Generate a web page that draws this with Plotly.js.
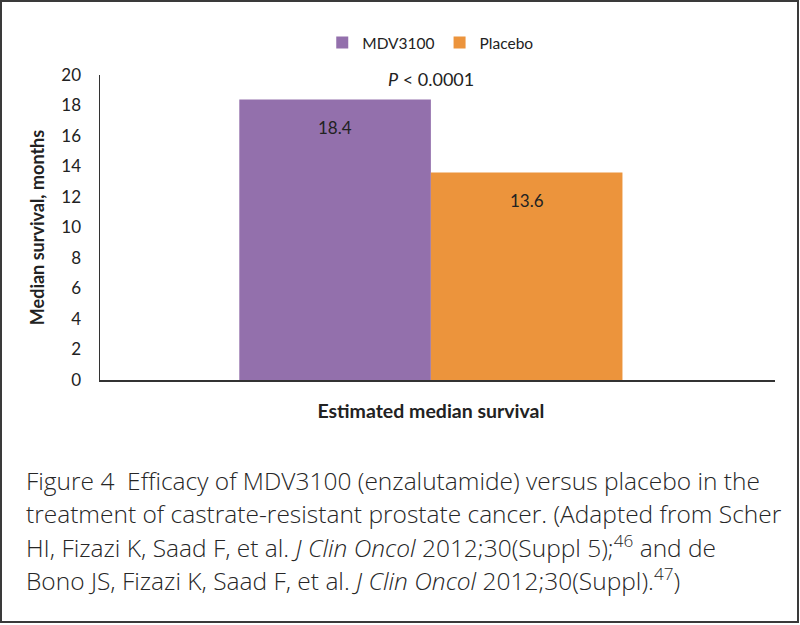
<!DOCTYPE html>
<html>
<head>
<meta charset="utf-8">
<script src="https://cdn.plot.ly/plotly-3.0.1.min.js"></script>
<style>
  html, body { margin: 0; padding: 0; background: #fff; }
  #chart { position: absolute; left: 0; top: 0; width: 800px; height: 625px; }
  #frame { position: absolute; left: 0; top: 0; width: 799px; height: 623px; box-sizing: border-box; border: 2px solid #3a3a3a; pointer-events: none; }
</style>
</head>
<body>
<div id="chart"></div>
<div id="frame"></div>
<script>
const categories = ['Estimated median survival'];
const seriesNames = ['MDV3100', 'Placebo'];
const mdvValues = [18.4];
const placeboValues = [13.6];
const yTicks = [0, 2, 4, 6, 8, 10, 12, 14, 16, 18, 20];
const pValueText = '<i>P</i> < 0.0001';
const captionLines = [
  'Figure 4  Efficacy of MDV3100 (enzalutamide) versus placebo in the',
  'treatment of castrate-resistant prostate cancer. (Adapted from Scher',
  'HI, Fizazi K, Saad F, et al. <i>J Clin Oncol</i> 2012;30(Suppl 5);<sup>46</sup> and de',
  'Bono JS, Fizazi K, Saad F, et al. <i>J Clin Oncol</i> 2012;30(Suppl).<sup>47</sup>)'
];

const FONT = 'Lato, "Open Sans", sans-serif';
const CAPFONT = '"Open Sans", Lato, sans-serif';
const purple = 'rgb(147,112,172)';
const orange = 'rgb(236,148,60)';

const traces = [
  { type: 'bar', name: seriesNames[0], x: categories, y: mdvValues,
    marker: { color: purple }, hoverinfo: 'y' },
  { type: 'bar', name: seriesNames[1], x: categories, y: placeboValues,
    marker: { color: orange }, hoverinfo: 'y' }
];

const annotations = [];
// value labels
[mdvValues, placeboValues].forEach((vals, i) => {
  vals.forEach((v, j) => {
    annotations.push({
      x: categories[j], y: v, xref: 'x', yref: 'y',
      xshift: i === 0 ? -96 : 96, yshift: -28,
      text: v.toFixed(1), showarrow: false,
      font: { family: FONT, size: 17, color: '#222' }
    });
  });
});
// p-value
annotations.push({
  x: categories[0], xref: 'x', y: 1.0, yref: 'paper', yshift: 9,
  xshift: 0, text: pValueText, showarrow: false,
  font: { family: FONT, size: 18, color: '#222' }
});
// caption lines
const capY = [480, 513, 546, 579];
captionLines.forEach((t, i) => {
  annotations.push({
    xref: 'paper', yref: 'paper',
    x: (24 - 100) / 675, y: (380 - capY[i]) / 305,
    xanchor: 'left', yanchor: 'middle', align: 'left',
    text: t, showarrow: false,
    font: { family: CAPFONT, size: 24.5, color: '#262626', weight: 300 }
  });
});

const layout = {
  width: 800, height: 625,
  margin: { l: 100, r: 25, t: 75, b: 245 },
  paper_bgcolor: '#fff', plot_bgcolor: '#fff',
  barmode: 'group', bargap: 0.421, bargroupgap: 0,
  showlegend: true,
  legend: {
    orientation: 'h', x: 0.49, xanchor: 'center', y: 1.105, yanchor: 'middle',
    font: { family: FONT, size: 15.5, color: '#222' },
    itemwidth: 30, traceorder: 'normal'
  },
  xaxis: {
    type: 'category', range: [-0.5, 0.52],
    showline: true, linecolor: '#333', linewidth: 1.5,
    showgrid: false, zeroline: false, ticks: '',
    ticklabelstandoff: 13,
    tickfont: { family: FONT, size: 19.5, color: '#222', weight: 'bold' },
    fixedrange: true
  },
  yaxis: {
    range: [0, 20], tickvals: yTicks, ticktext: yTicks.map(String),
    showline: true, linecolor: '#333', linewidth: 1.5,
    showgrid: false, zeroline: false, ticks: '',
    ticklabelstandoff: 14,
    tickfont: { family: FONT, size: 17, color: '#222' },
    title: { text: 'Median survival, months', standoff: 12,
      font: { family: FONT, size: 18, color: '#222', weight: 'bold' } },
    fixedrange: true
  },
  annotations: annotations
};

Plotly.newPlot('chart', traces, layout, { displayModeBar: false, staticPlot: true });
</script>
</body>
</html>
